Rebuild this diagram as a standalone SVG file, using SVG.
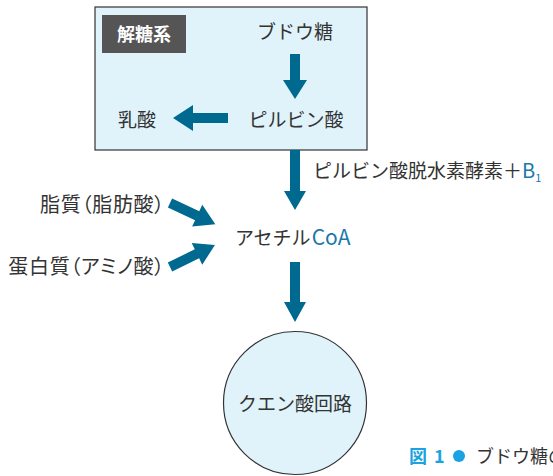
<svg xmlns="http://www.w3.org/2000/svg" width="553" height="476" viewBox="0 0 553 476">
<style>
.t{font-family:"Noto Sans CJK JP","Noto Sans",sans-serif;font-size:19px;fill:#333}
.p{font-size:20px;font-feature-settings:"palt";letter-spacing:0.7px}
.b{fill:#1a78aa}
.arr{fill:#00698f}
</style>
<defs>
<path id="dg" d="M-5,0 H5 V30 H12 L0,50 L-12,30 H-5 Z"/>
</defs>
<rect width="553" height="476" fill="#fff"/>
<g id="glycolysis">
<rect x="95" y="7" width="272" height="143" fill="#e0f3fb" stroke="#333" stroke-width="1.2"/>
<rect x="102" y="15" width="84" height="38" fill="#555"/>
<text x="144" y="41" text-anchor="middle" style="font-family:'Noto Sans CJK JP',sans-serif;font-size:18px;font-weight:bold;fill:#fff">解糖系</text>
</g>
<g id="glucose"><text class="t" x="295" y="39" text-anchor="middle">ブドウ糖</text></g>
<g id="pyruvate"><text class="t" x="296" y="127" text-anchor="middle">ピルビン酸</text></g>
<g id="lactate"><text class="t" x="137" y="127" text-anchor="middle">乳酸</text></g>
<g id="acetylcoa"><text class="t" x="235" y="245">アセチル<tspan class="b" dx="1" style="font-size:21px">CoA</tspan></text></g>
<g id="lipid"><text class="t p" x="165" y="212" text-anchor="end">脂質（脂肪酸）</text></g>
<g id="protein"><text class="t p" x="165" y="274" text-anchor="end">蛋白質（アミノ酸）</text></g>
<g id="tca">
<circle cx="295" cy="403" r="71.5" fill="#e0f3fb" stroke="#333" stroke-width="1.2"/>
<text class="t" x="295" y="411" text-anchor="middle">クエン酸回路</text>
</g>
<g id="enzyme"><text class="t" x="313" y="178">ピルビン酸脱水素酵素＋<tspan class="b" style="font-size:20px">B</tspan><tspan class="b" style="font-size:11px" dy="4">1</tspan></text></g>
<g id="caption" style="font-family:'Noto Sans CJK JP',sans-serif;font-size:18px">
<text x="409" y="463" style="fill:#1aa3e0;font-weight:bold">図</text>
<text x="434" y="463" style="fill:#1aa3e0;font-weight:bold">1</text>
<circle cx="459" cy="456" r="6" fill="#1aa3e0"/>
<text x="476" y="463" style="fill:#333">ブドウ糖の</text>
</g>
<g id="connectors" class="arr">
<path d="M290,54 H300 V80 H307 L295,99 L283,80 H290 Z"/>
<path d="M228,113 V123 H193 V131 L173,118 L193,105 V113 Z"/>
<path d="M290,150 H300 V191 H306 L295,210 L284,191 H290 Z"/>
<path d="M290,262 H300 V302 H306 L295,322 L284,302 H290 Z"/>
<use href="#dg" transform="translate(170,203) rotate(-65)"/>
<use href="#dg" transform="translate(170,267) rotate(-116)"/>
</g>
</svg>
